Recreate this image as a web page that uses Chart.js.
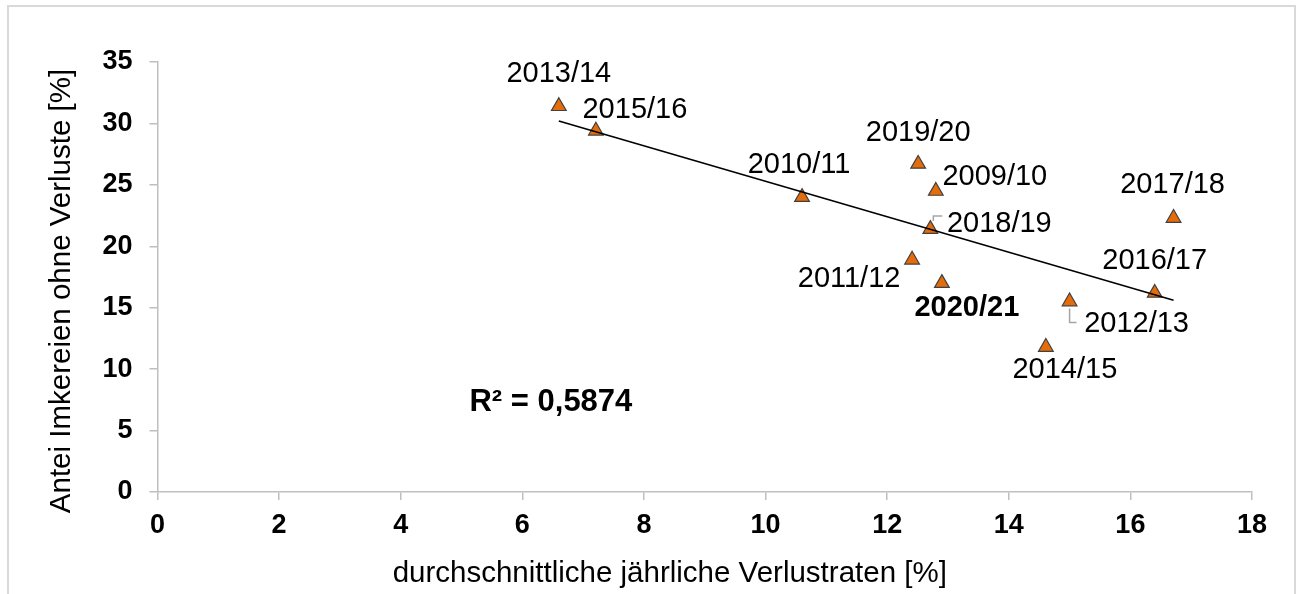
<!DOCTYPE html>
<html>
<head>
<meta charset="utf-8">
<script src="https://cdn.jsdelivr.net/npm/chart.js@4"></script>
<style>
  html, body { margin: 0; padding: 0; background: #fff; overflow: hidden; }
  #wrap { position: relative; width: 1299px; height: 594px; }
  #frame { position: absolute; left: 7px; top: 5px; width: 1285px; height: 700px; border: 2px solid #d9d9d9; }
  #chart { position: absolute; left: 0; top: 0; }
</style>
</head>
<body>
<div id="wrap">
  <div id="frame"></div>
  <canvas id="chart" width="1299" height="594"></canvas>
</div>
<script>
// seasons and values
const seasons = ['2009/10', '2010/11', '2011/12', '2012/13', '2013/14', '2014/15',
                 '2015/16', '2016/17', '2017/18', '2018/19', '2019/20', '2020/21'];
const lossRates = [12.80, 10.60, 12.41, 15.00, 6.60, 14.61, 7.21, 16.40, 16.71, 12.71, 12.51, 12.90];
const noLossShare = [24.5, 24.0, 18.9, 15.5, 31.4, 11.8, 29.4, 16.2, 22.3, 21.4, 26.7, 17.0];

// linear trend line (ends as drawn in the picture)
const trendX = [6.60, 16.71];
const trendY = [30.2, 15.6];

const xTicks = [0, 2, 4, 6, 8, 10, 12, 14, 16, 18];
const yTicks = [0, 5, 10, 15, 20, 25, 30, 35];

const rSquaredText = 'R² = 0,5874';
const xTitle = 'durchschnittliche jährliche Verlustraten [%]';
const yTitle = 'Antei Imkereien ohne Verluste [%]';
const boldSeason = '2020/21';

// label placement, pixels from the marker (text centre)
const labelOffsets = {
    '2009/10': [59, -14], '2010/11': [-3, -32], '2011/12': [-63, 19], '2012/13': [67, 22],
    '2013/14': [0, -32], '2014/15': [19, 23], '2015/16': [39, -21], '2016/17': [0, -32],
    '2017/18': [-1, -33], '2018/19': [69, -5], '2019/20': [0, -31], '2020/21': [25, 25]
};
const leaderLines = {
    '2012/13': [[0, 7], [0, 21], [7, 21]],
    '2018/19': [[3, -8], [3, -13], [12, -13]]
};

const FONT = '"Liberation Sans", Arial, sans-serif';

const labelPlugin = {
    id: 'labels',
    afterDatasetsDraw(chart) {
        const ctx = chart.ctx;
        const xs = chart.scales.x;
        const ys = chart.scales.y;
        ctx.save();

        // leader lines
        ctx.strokeStyle = '#a6a6a6';
        ctx.lineWidth = 1.5;
        seasons.forEach(function (s, i) {
            if (!leaderLines[s]) return;
            const px = xs.getPixelForValue(lossRates[i]);
            const py = ys.getPixelForValue(noLossShare[i]);
            ctx.beginPath();
            leaderLines[s].forEach(function (p, j) {
                if (j === 0) ctx.moveTo(px + p[0], py + p[1]);
                else ctx.lineTo(px + p[0], py + p[1]);
            });
            ctx.stroke();
        });

        // data labels
        ctx.fillStyle = '#000';
        ctx.textAlign = 'center';
        ctx.textBaseline = 'middle';
        seasons.forEach(function (s, i) {
            const px = xs.getPixelForValue(lossRates[i]);
            const py = ys.getPixelForValue(noLossShare[i]);
            const off = labelOffsets[s];
            ctx.font = (s === boldSeason ? 'bold ' : '') + '29px ' + FONT;
            ctx.fillText(s, px + off[0], py + off[1]);
        });

        // R² text
        ctx.font = 'bold 31px ' + FONT;
        ctx.fillText(rSquaredText, xs.getPixelForValue(6.47), ys.getPixelForValue(7.28));

        // axis titles
        const area = chart.chartArea;
        ctx.font = '29.5px ' + FONT;
        ctx.textBaseline = 'alphabetic';
        ctx.fillText(xTitle, (area.left + area.right) / 2 - 35, 582);
        ctx.save();
        ctx.translate(70, (area.top + area.bottom) / 2 + 14);
        ctx.rotate(-Math.PI / 2);
        ctx.fillText(yTitle, 0, 0);
        ctx.restore();

        ctx.restore();
    }
};

const axisColor = '#bfbfbf';

new Chart(document.getElementById('chart').getContext('2d'), {
    type: 'scatter',
    data: {
        datasets: [{
            label: 'Trend',
            data: trendX.map(function (x, i) { return { x: x, y: trendY[i] }; }),
            type: 'line',
            showLine: true,
            borderColor: '#000',
            borderWidth: 1.6,
            pointRadius: 0,
            fill: false,
            order: 0
        }, {
            label: 'Saisons',
            data: lossRates.map(function (x, i) { return { x: x, y: noLossShare[i] }; }),
            pointStyle: 'triangle',
            pointRadius: 8.5,
            pointHoverRadius: 8.5,
            backgroundColor: '#e46c0a',
            borderColor: '#404040',
            borderWidth: 1.2,
            order: 1
        }]
    },
    options: {
        responsive: false,
        animation: false,
        devicePixelRatio: 1,
        layout: { padding: { left: 0, right: 47, top: 62, bottom: 0 } },
        plugins: {
            legend: { display: false },
            tooltip: { enabled: false }
        },
        scales: {
            x: {
                type: 'linear',
                min: 0,
                max: 18,
                afterBuildTicks: function (s) { s.ticks = xTicks.map(function (v) { return { value: v }; }); },
                afterFit: function (s) { s.height = 102; },
                grid: { drawOnChartArea: false, drawTicks: true, tickLength: 8, color: axisColor, lineWidth: 1.5 },
                border: { display: true, color: axisColor, width: 1.5 },
                ticks: { color: '#000', font: { family: FONT, size: 27, weight: 'bold' }, padding: 9, maxRotation: 0 }
            },
            y: {
                type: 'linear',
                min: 0,
                max: 35,
                afterBuildTicks: function (s) { s.ticks = yTicks.map(function (v) { return { value: v }; }); },
                afterFit: function (s) { s.width = 157.5; },
                grid: { drawOnChartArea: false, drawTicks: true, tickLength: 8, color: axisColor, lineWidth: 1.5 },
                border: { display: true, color: axisColor, width: 1.5 },
                ticks: { color: '#000', font: { family: FONT, size: 27, weight: 'bold' }, padding: 17 }
            }
        }
    },
    plugins: [labelPlugin]
});
</script>
</body>
</html>
